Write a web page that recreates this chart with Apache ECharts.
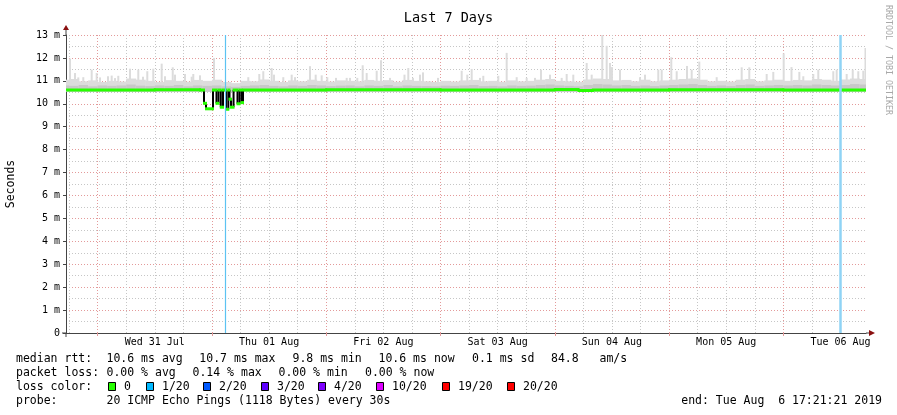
<!DOCTYPE html>
<html><head><meta charset="utf-8">
<script src="https://cdn.jsdelivr.net/npm/echarts@6/dist/echarts.min.js"></script>
<style>html,body{margin:0;padding:0;background:#fff}#c{width:897px;height:415px}</style>
</head><body><div id="c"></div>
<script>
// ================= DATA =================
const chartTitle = 'Last 7 Days';
const yName = 'Seconds';
const credit = 'RRDTOOL / TOBI OETIKER';
// time axis in hours relative to Wed 31 Jul 2019 00:00
const startHour = -6.644;   // Tue 30 Jul 17:21:21
const endHour = 161.356;    // Tue 06 Aug 17:21:21
const dayLabels = ['Wed 31 Jul','Thu 01 Aug','Fri 02 Aug','Sat 03 Aug','Sun 04 Aug','Mon 05 Aug','Tue 06 Aug'];
const labelHours = [12, 36, 60, 84, 108, 132, 156];        // noon of each day
const majorHours = [0, 24, 48, 72, 96, 120, 144];          // midnights
const minorHours = [-6, 0, 6, 12, 18, 24, 30, 36, 42, 48, 54, 60, 66, 72, 78, 84, 90, 96, 102, 108, 114, 120, 126, 132, 138, 144, 150, 156];
const yMax = 13;

// median rtt (ms): sample start times and values
const medianT = [-6.644, 12, 21.5, 22.34, 22.76, 24.23, 24.96, 25.38, 25.86, 26.33, 26.96, 27.44, 27.69, 28.01, 28.54, 29.37, 29.79, 30.21, 30.53, 48, 72, 96, 101, 104, 120, 144];
const medianV = [10.6, 10.61, 10.6, 10.02, 9.78, 10.6, 10.02, 10.6, 9.85, 10.6, 9.76, 10.6, 10.2, 9.85, 10.6, 10.0, 10.6, 10.05, 10.6, 10.61, 10.6, 10.62, 10.58, 10.6, 10.61, 10.6];

// smoke band (2-hour buckets from bandFrom): light smoke top, dark smoke top
const bandFrom = -8, bandStep = 2;
const smokeLow = 10.52;
const bandTop = [11.05,11.08,10.98,11.02,10.95,11.0,10.97,11.1,11.05,11.0,
 10.95,11.03,11.0,10.96,11.04,11.0,11.05,10.95,10.9,11.0,
 10.98,11.06,11.0,10.95,11.02,10.98,11.05,11.0,10.97,11.02,
 11.0,10.98,11.04,11.0,11.03,10.96,11.04,11.0,10.98,10.95,
 11.0,10.97,11.02,11.04,10.98,11.0,10.96,11.02,10.98,11.0,
 11.05,11.08,11.0,10.98,10.96,11.06,11.1,11.08,11.02,11.04,
 10.98,11.05,10.98,11.02,11.05,11.08,11.1,11.05,10.98,11.0,
 10.97,11.05,11.08,10.98,11.02,11.05,11.0,11.04,11.02,11.08,
 11.05,11.0,11.06,11.1,11.08];
const bandDark = [10.8,10.78,10.82,10.76,10.8,10.78,10.8,10.84,10.79,10.77,
 10.8,10.78,10.82,10.76,10.8,10.78,10.8,10.76,10.74,10.78,
 10.8,10.82,10.78,10.76,10.8,10.78,10.82,10.8,10.77,10.79,
 10.8,10.76,10.8,10.78,10.82,10.76,10.8,10.78,10.77,10.76,
 10.79,10.78,10.8,10.82,10.77,10.78,10.76,10.8,10.78,10.79,
 10.82,10.84,10.8,10.78,10.76,10.82,10.86,10.84,10.8,10.82,
 10.78,10.8,10.77,10.8,10.82,10.84,10.86,10.82,10.78,10.8,
 10.77,10.82,10.84,10.78,10.8,10.82,10.8,10.82,10.8,10.84,
 10.82,10.8,10.82,10.86,10.84];

// smoke spikes (max ping) : time (h) and value (ms)
const spikeT = [-5.80,-4.75,-4.06,-3.01,-1.25,-0.20,0.50,2.18,2.95,3.65,4.34,6.80,8.54,9.53,10.43,11.69,13.45,14.15,15.77,16.25,18.35,19.75,20.09,21.50,24.44,31.64,33.95,34.79,36.55,37.04,38.99,40.75,41.45,44.60,45.79,47.05,48.23,50.06,52.30,53.0,54.53,55.66,56.50,58.6,59.51,61.4,64.44,65.24,66.23,67.70,68.33,71.48,76.45,77.63,78.55,80.30,80.99,84.14,85.9,88.0,90.1,91.85,93.1,95.0,97.45,98.5,99.89,102.7,103.75,105.98,106.9,107.6,108.0,109.7,113.9,114.95,117.74,118.45,120.47,121.6,123.77,124.75,126.35,130.0,135.25,136.85,140.5,141.89,144.07,145.71,147.36,148.19,150.29,151.34,154.49,155.2,157.3,158.57,159.74,160.79,161.25];
const spikeV = [11.97,11.34,11.15,11.16,11.49,11.34,11.15,11.2,11.23,11.12,11.22,11.53,11.49,11.18,11.42,11.53,11.75,11.2,11.59,11.27,11.3,11.18,11.3,11.24,12.0,11.16,11.3,11.42,11.56,11.27,11.16,11.27,11.16,11.64,11.27,11.24,11.16,11.13,11.13,11.13,11.13,11.68,11.34,11.44,11.9,11.13,11.27,11.56,11.13,11.27,11.37,11.13,11.44,11.27,11.52,11.13,11.22,11.22,12.22,11.16,11.13,11.13,11.49,11.27,11.13,11.3,11.27,11.78,11.27,13.0,12.53,11.78,11.6,11.49,11.16,11.27,11.49,11.49,12.03,11.42,11.65,11.49,11.84,11.16,11.59,11.59,11.3,11.39,12.2,11.6,11.39,11.2,11.3,11.49,11.42,11.49,11.3,11.49,11.42,11.44,12.43];

// vertical event markers (h)
const eventT = [26.75, 155.9];

// legend / statistics
const lossLabels = ['0','1/20','2/20','3/20','4/20','10/20','19/20','20/20'];
const lossColors = ['#26ff00','#00b8ff','#0059ff','#5e00ff','#7e00ff','#dd00ff','#ff0000','#ff0000'];
const statNames = ['avg','max','min','now'];
const rttVals = ['10.6','10.7','9.8','10.6'];
const rttSd = '0.1';
const amS = '84.8';
const lossVals = ['0.00','0.14','0.00','0.00'];
const probeText = '20 ICMP Echo Pings (1118 Bytes) every 30s';
const endText = 'end: Tue Aug  6 17:21:21 2019';

// ================= LAYOUT / STYLE =================
const mono = '"DejaVu Sans Mono", monospace';
const gridL = 66, gridR = 866, gridT = 35, gridB = 333;
const axisCol = '#444';
const arrowCol = '#8a1010';
const majCol = '#e39a9a', minCol = '#c6c6c6';
const smokeLight = '#dcdcdc', smokeDark = '#c8c8c8';

const medianItems = medianT.map((t, i) => [t, i < medianT.length - 1 ? medianT[i + 1] : endHour, medianV[i], i < medianV.length - 1 ? medianV[i + 1] : medianV[i]]);
const bandItems = bandTop.map((top, k) => [bandFrom + k * bandStep, bandFrom + (k + 1) * bandStep, top, bandDark[k]]);
const spikeItems = spikeT.map((t, i) => [t, spikeV[i]]);

function renderSpike(params, api) {
  const p = api.coord([api.value(0), api.value(1)]);
  const q = api.coord([api.value(0), smokeLow]);
  return {type: 'rect', shape: {x: p[0] - 1, y: p[1], width: 2, height: q[1] - p[1]}, style: {fill: smokeLight}};
}
function renderBand(params, api) {
  const a = api.coord([api.value(0), api.value(2)]);
  const b = api.coord([api.value(1), smokeLow]);
  const d = api.coord([api.value(0), api.value(3)]);
  return {type: 'group', children: [
    {type: 'rect', shape: {x: a[0], y: a[1], width: b[0] - a[0] + 0.5, height: b[1] - a[1]}, style: {fill: smokeLight}},
    {type: 'rect', shape: {x: a[0], y: d[1], width: b[0] - a[0] + 0.5, height: b[1] - d[1]}, style: {fill: smokeDark}}
  ]};
}
function renderMedian(params, api) {
  const t0 = api.value(0), t1 = api.value(1), v = api.value(2), vn = api.value(3);
  const a = api.coord([t0, v]), b = api.coord([t1, v]);
  const ch = [];
  if (Math.abs(vn - v) > 0.15) {
    const c = api.coord([t1, vn]);
    ch.push({type: 'line', shape: {x1: b[0], y1: b[1], x2: c[0], y2: c[1]}, style: {stroke: '#000', lineWidth: 2}});
  } else if (vn !== v) {
    const c = api.coord([t1, vn]);
    ch.push({type: 'line', shape: {x1: b[0], y1: b[1], x2: c[0], y2: c[1]}, style: {stroke: lossColors[0], lineWidth: 3}});
  }
  ch.push({type: 'line', shape: {x1: a[0] - 1, y1: a[1], x2: b[0] + 1, y2: b[1]}, style: {stroke: lossColors[0], lineWidth: 3}});
  return {type: 'group', children: ch};
}

// legend graphics
const g = [];
function txt(x, y, s, align) {
  g.push({type: 'text', x: x, y: y, silent: true, style: {text: s, font: '11.5px ' + mono, fill: '#000', align: align || 'left', verticalAlign: 'middle'}});
}
const row1 = 359.5, row2 = 373.5, row3 = 387, row4 = 401;
txt(16, row1, 'median rtt:');
const rttX = [106.5, 199.3, 292.5, 378.5];
rttVals.forEach((v, i) => txt(rttX[i], row1, v + ' ms ' + statNames[i]));
txt(472, row1, rttSd + ' ms sd');
txt(551, row1, amS + '   am/s');
txt(16, row2, 'packet loss:');
const lossX = [106.5, 192.5, 278.5, 365];
lossVals.forEach((v, i) => txt(lossX[i], row2, v + ' % ' + statNames[i]));
txt(16, row3, 'loss color:');
const boxX = [108.5, 146.5, 203.5, 261.5, 318.5, 376.5, 442.5, 507.5];
lossLabels.forEach((l, i) => {
  g.push({type: 'rect', shape: {x: boxX[i], y: row3 - 4.5, width: 7, height: 8}, style: {fill: lossColors[i], stroke: '#000', lineWidth: 1}});
  txt(boxX[i] + 15.5, row3, l);
});
txt(16, row4, 'probe:');
txt(106.5, row4, probeText);
txt(882, row4, endText, 'right');
// axis extensions & arrows
g.push({type: 'line', shape: {x1: gridL, y1: gridT, x2: gridL, y2: 29}, style: {stroke: axisCol, lineWidth: 1}});
g.push({type: 'line', shape: {x1: gridL, y1: gridB, x2: gridL, y2: 337}, style: {stroke: axisCol, lineWidth: 1}});
g.push({type: 'line', shape: {x1: 62, y1: gridB, x2: gridL, y2: gridB}, style: {stroke: axisCol, lineWidth: 1}});
g.push({type: 'line', shape: {x1: gridR, y1: gridB, x2: 870, y2: gridB}, style: {stroke: axisCol, lineWidth: 1}});
g.push({type: 'polygon', shape: {points: [[gridL - 3, 30], [gridL + 3, 30], [gridL, 25]]}, style: {fill: arrowCol}});
g.push({type: 'polygon', shape: {points: [[869, gridB - 3], [869, gridB + 3], [875, gridB]]}, style: {fill: arrowCol}});
g.push({type: 'text', x: 888, y: 5, rotation: -Math.PI / 2, silent: true, style: {text: credit, font: '8.3px ' + mono, fill: '#a8a8a8', align: 'left', verticalAlign: 'middle'}});

const chart = echarts.init(document.getElementById('c'), null, {renderer: 'canvas', width: 897, height: 415});
chart.setOption({
  animation: false,
  backgroundColor: '#ffffff',
  title: {text: chartTitle, left: 'center', top: 6, textStyle: {fontFamily: mono, fontSize: 13.5, fontWeight: 'normal', color: '#000'}},
  grid: {left: gridL, right: 897 - gridR, top: gridT, bottom: 415 - gridB, outerBoundsMode: 'none'},
  xAxis: [{
    type: 'value', min: startHour, max: endHour, position: 'bottom',
    axisLine: {show: true, onZero: false, lineStyle: {color: axisCol, width: 1}},
    axisTick: {show: false, customValues: minorHours},
    axisLabel: {
      fontFamily: mono, fontSize: 10, color: '#000', margin: 4,
      customValues: labelHours,
      formatter: function (v) {
        const i = labelHours.findIndex(h => Math.abs(h - v) < 1e-6);
        return i >= 0 ? dayLabels[i] : '';
      }
    },
    splitLine: {show: true, lineStyle: {color: minCol, type: [1, 2], width: 1}}
  }, {
    type: 'value', min: startHour, max: endHour, position: 'bottom',
    axisLine: {show: false, onZero: false}, axisLabel: {show: false},
    splitLine: {show: true, lineStyle: {color: majCol, type: [1, 2], width: 1}},
    axisTick: {show: true, length: 3, customValues: majorHours, lineStyle: {color: majCol}}
  }],
  yAxis: {
    type: 'value', min: 0, max: yMax, interval: 1,
    name: yName, nameLocation: 'middle', nameGap: 49,
    nameTextStyle: {fontFamily: mono, fontSize: 11.5, color: '#000'},
    axisLine: {show: true, onZero: false, lineStyle: {color: axisCol, width: 1}},
    axisTick: {show: true, length: 3, lineStyle: {color: axisCol}},
    axisLabel: {fontFamily: mono, fontSize: 10, color: '#000', margin: 6, formatter: v => v === 0 ? '0' : v + ' m'},
    splitLine: {show: true, lineStyle: {color: majCol, type: [1, 2], width: 1}},
    minorTick: {show: false, splitNumber: 2},
    minorSplitLine: {show: true, lineStyle: {color: minCol, type: [1, 2], width: 1}}
  },
  series: [
    {type: 'custom', name: 'spikes', clip: true, renderItem: renderSpike, encode: {x: 0, y: 1}, data: spikeItems, silent: true},
    {type: 'custom', name: 'smoke', clip: true, renderItem: renderBand, encode: {x: [0, 1], y: [2, 3]}, data: bandItems, silent: true},
    {type: 'custom', name: 'median', clip: true, renderItem: renderMedian, encode: {x: [0, 1], y: [2, 3]}, data: medianItems, silent: true},
    {type: 'line', name: 'events', data: [], silent: true,
      markLine: {silent: true, symbol: ['none', 'none'], label: {show: false},
        data: eventT.map((t, i) => ({xAxis: t, lineStyle: {color: i === 0 ? '#5cc3f2' : '#8fd3f5', width: i === 0 ? 1.2 : 2.5, type: 'solid'}}))}}
  ],
  graphic: {elements: g}
});
</script></body></html>
